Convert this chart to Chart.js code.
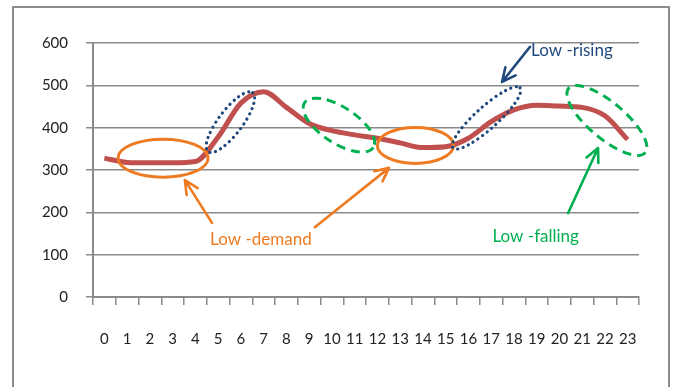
<!DOCTYPE html>
<html>
<head>
<meta charset="utf-8">
<script src="https://cdn.jsdelivr.net/npm/chart.js@4.4.1/dist/chart.umd.min.js"></script>
<style>
  html, body { margin: 0; padding: 0; background: #ffffff; }
  canvas { display: block; }
</style>
</head>
<body>
<canvas id="chart" width="676" height="387"></canvas>
<script>
// Hourly demand profile
const hours = ['0','1','2','3','4','5','6','7','8','9','10','11','12','13','14','15','16','17','18','19','20','21','22','23'];
const demand = [328, 318, 317, 317, 320, 378, 458, 485, 448, 410, 393, 383, 375, 364, 353, 355, 375, 414, 442, 453, 451, 448, 428, 372];
const yMin = 0;
const yMax = 600;
const yStep = 100;

const FONT = 'Lato, "Open Sans", "Liberation Sans", sans-serif';
const ORANGE = '#EE7B22';
const BLUE = '#1F497D';
const GREEN = '#00B050';
const GRID = '#8a8a8a';

// Callout shapes, placed in chart units (category index, demand value)
const ellipses = [
  { x: 2.58,  y: 328, rx: 45, ry: 19, rot: 0,   color: ORANGE, style: 'solid' },
  { x: 13.67, y: 358, rx: 38, ry: 18, rot: 0,   color: ORANGE, style: 'solid' },
  { x: 5.54,  y: 413, rx: 37, ry: 12, rot: -53, color: BLUE,   style: 'dotted' },
  { x: 16.8,  y: 423, rx: 45, ry: 11, rot: -42, color: BLUE,   style: 'dotted' },
  { x: 10.31, y: 406, rx: 41, ry: 18, rot: 33,  color: GREEN,  style: 'dashed' },
  { x: 22.09, y: 417, rx: 50, ry: 18, rot: 40,  color: GREEN,  style: 'dashed' }
];
const arrows = [
  { from: [4.73, 175],  to: [3.54, 276],  color: ORANGE },
  { from: [9.25, 165],  to: [12.51, 305], color: ORANGE },
  { from: [18.71, 591], to: [17.48, 508], color: BLUE },
  { from: [20.38, 198], to: [21.70, 352], color: GREEN }
];
const notes = [
  { text: 'Low -demand',  x: 6.88,  y: 135, color: ORANGE },
  { text: 'Low -rising',  x: 20.55, y: 583, color: BLUE },
  { text: 'Low -falling', x: 18.96, y: 142, color: GREEN }
];

const framePlugin = {
  id: 'frame',
  beforeDraw(chart) {
    const ctx = chart.ctx;
    ctx.save();
    ctx.fillStyle = '#ffffff';
    ctx.fillRect(0, 0, chart.width, chart.height);
    ctx.strokeStyle = '#8c8c8c';
    ctx.lineWidth = 2;
    ctx.strokeRect(13, 7, 656, chart.height + 20);
    ctx.restore();
  }
};

const calloutPlugin = {
  id: 'callouts',
  afterDatasetsDraw(chart) {
    const ctx = chart.ctx;
    const xs = chart.scales.x, ys = chart.scales.y;
    const px = v => xs.getPixelForValue(v);
    const py = v => ys.getPixelForValue(v);
    ctx.save();
    ellipses.forEach(e => {
      ctx.beginPath();
      ctx.ellipse(px(e.x), py(e.y), e.rx, e.ry, e.rot * Math.PI / 180, 0, Math.PI * 2);
      ctx.strokeStyle = e.color;
      if (e.style === 'dotted') {
        ctx.lineWidth = 3.2;
        ctx.lineCap = 'round';
        ctx.setLineDash([0.1, 5.6]);
      } else if (e.style === 'dashed') {
        ctx.lineWidth = 3;
        ctx.lineCap = 'butt';
        ctx.setLineDash([9, 6]);
      } else {
        ctx.lineWidth = 3;
        ctx.lineCap = 'butt';
        ctx.setLineDash([]);
      }
      ctx.stroke();
    });
    ctx.setLineDash([]);
    arrows.forEach(a => {
      const x0 = px(a.from[0]), y0 = py(a.from[1]);
      const x1 = px(a.to[0]), y1 = py(a.to[1]);
      const ang = Math.atan2(y1 - y0, x1 - x0);
      const head = 15, spread = 0.45;
      ctx.strokeStyle = a.color;
      ctx.lineWidth = 2.6;
      ctx.lineCap = 'round';
      ctx.lineJoin = 'round';
      ctx.beginPath();
      ctx.moveTo(x0, y0);
      ctx.lineTo(x1, y1);
      ctx.moveTo(x1 - head * Math.cos(ang - spread), y1 - head * Math.sin(ang - spread));
      ctx.lineTo(x1, y1);
      ctx.lineTo(x1 - head * Math.cos(ang + spread), y1 - head * Math.sin(ang + spread));
      ctx.stroke();
    });
    ctx.font = '17px ' + FONT;
    ctx.textAlign = 'center';
    ctx.textBaseline = 'middle';
    notes.forEach(n => {
      ctx.fillStyle = n.color;
      ctx.fillText(n.text, px(n.x), py(n.y));
    });
    ctx.restore();
  }
};

new Chart(document.getElementById('chart'), {
  type: 'line',
  data: {
    labels: hours,
    datasets: [{
      data: demand,
      borderColor: '#C0504D',
      borderWidth: 5,
      pointRadius: 0,
      cubicInterpolationMode: 'monotone',
      fill: false
    }]
  },
  options: {
    responsive: false,
    animation: false,
    devicePixelRatio: 1,
    layout: { padding: { left: 0, top: 43, right: 37, bottom: 0 } },
    plugins: { legend: { display: false }, tooltip: { enabled: false } },
    scales: {
      x: {
        type: 'category',
        offset: true,
        afterFit(scale) { scale.height = 90; },
        grid: { display: true, offset: true, drawOnChartArea: false, color: GRID, lineWidth: 1.5, tickLength: 8 },
        border: { display: true, color: GRID, width: 2 },
        ticks: { color: '#222222', font: { family: FONT, size: 15 }, padding: 25, maxRotation: 0, autoSkip: false }
      },
      y: {
        min: yMin,
        max: yMax,
        afterFit(scale) { scale.width = 93; },
        grid: { color: GRID, lineWidth: 1.5, tickLength: 7 },
        border: { display: true, color: GRID, width: 2 },
        ticks: { stepSize: yStep, color: '#222222', font: { family: FONT, size: 15 }, padding: 18 }
      }
    }
  },
  plugins: [framePlugin, calloutPlugin]
});
</script>
</body>
</html>
